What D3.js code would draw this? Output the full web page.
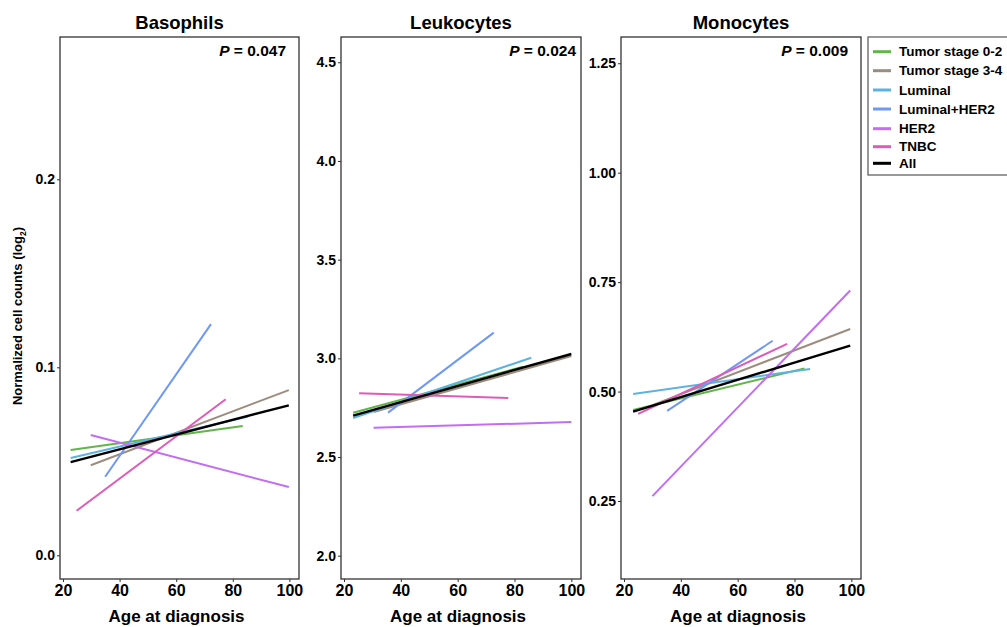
<!DOCTYPE html>
<html><head><meta charset="utf-8">
<script src="https://cdn.jsdelivr.net/npm/d3@7"></script>
<style>
body{margin:0;background:#fff;}
svg{display:block;font-family:"Liberation Sans",Arial,sans-serif;font-weight:bold;}
</style></head>
<body><svg id="c" width="1007" height="627"></svg>
<script>
// ---- data ----
const panels = ["Basophils", "Leukocytes", "Monocytes"];
const pValues = ["0.047", "0.024", "0.009"];
const groups = ["Tumor stage 0-2", "Tumor stage 3-4", "Luminal", "Luminal+HER2", "HER2", "TNBC", "All"];
const groupColors = ["#62b548", "#9c8c7d", "#5db3e0", "#6f98f4", "#c36df2", "#de5bb9", "#000000"];
const xTicks = [20, 40, 60, 80, 100];
const yTicks = [[0.0, 0.1, 0.2], [2.0, 2.5, 3.0, 3.5, 4.0, 4.5], [0.25, 0.50, 0.75, 1.00, 1.25]];
const yTickFormats = [".1f", ".1f", ".2f"];
const yDomains = [[-0.0126, 0.2757], [1.882, 4.628], [0.0718, 1.310]];
// each line: [ageStart, valueStart, ageEnd, valueEnd], order follows groups
const basophils = [
  [22.7, 0.0560, 83.5, 0.0688],
  [29.8, 0.0479, 99.8, 0.0879],
  [22.7, 0.0518, 85.5, 0.0738],
  [34.9, 0.0418, 72.3, 0.1230],
  [29.8, 0.0640, 99.8, 0.0363],
  [24.8, 0.0237, 77.5, 0.0830],
  [22.7, 0.0496, 99.8, 0.0798]
];
const leukocytes = [
  [23.2, 2.724, 83.0, 2.958],
  [30.4, 2.728, 100.0, 3.012],
  [23.2, 2.698, 85.9, 3.003],
  [35.5, 2.725, 72.7, 3.130],
  [30.4, 2.648, 100.0, 2.677],
  [25.3, 2.823, 77.8, 2.799],
  [23.2, 2.710, 100.0, 3.022]
];
const monocytes = [
  [23.2, 0.458, 83.5, 0.553],
  [30.0, 0.469, 99.6, 0.643],
  [23.2, 0.4945, 85.5, 0.5516],
  [35.2, 0.456, 72.3, 0.616],
  [30.0, 0.261, 99.6, 0.731],
  [25.0, 0.449, 77.4, 0.609],
  [23.2, 0.454, 99.6, 0.605]
];
const panelData = [basophils, leukocytes, monocytes];

// ---- layout ----
const svg = d3.select("#c");
const lefts = [60, 341, 621], widths = [239, 240, 240];
const plotTop = 37, plotBottom = 579;
const xDomain = [18.94, 103.4];
const pRight = [286, 576, 848];

panels.forEach((name, i) => {
  const x = d3.scaleLinear().domain(xDomain).range([lefts[i], lefts[i] + widths[i]]);
  const y = d3.scaleLinear().domain(yDomains[i]).range([plotBottom, plotTop]);
  const g = svg.append("g");

  // frame
  g.append("rect").attr("x", lefts[i]).attr("y", plotTop).attr("width", widths[i]).attr("height", plotBottom - plotTop)
    .attr("fill", "none").attr("stroke", "#333").attr("stroke-width", 1.3);

  // y axis
  const ya = g.append("g").attr("transform", `translate(${lefts[i]},0)`)
    .call(d3.axisLeft(y).tickValues(yTicks[i]).tickFormat(d3.format(yTickFormats[i])).tickSize(3).tickPadding(2));
  ya.select(".domain").remove();
  ya.selectAll("line").attr("stroke", "#333");
  ya.selectAll("text").attr("font-size", 14).attr("font-weight", "bold").attr("fill", "#000")
    .attr("font-family", "Liberation Sans, Arial, sans-serif");

  // x axis
  const xa = g.append("g").attr("transform", `translate(0,${plotBottom})`)
    .call(d3.axisBottom(x).tickValues(xTicks).tickSize(3).tickPadding(3));
  xa.select(".domain").remove();
  xa.selectAll("line").attr("stroke", "#333");
  xa.selectAll("text").attr("font-size", 16).attr("font-weight", "bold").attr("fill", "#000")
    .attr("font-family", "Liberation Sans, Arial, sans-serif");

  // title
  g.append("text").attr("x", lefts[i] + widths[i] / 2).attr("y", 29).attr("text-anchor", "middle")
    .attr("font-size", 18.5).text(name);

  // x label
  g.append("text").attr("x", lefts[i] + widths[i] / 2 - 3).attr("y", 622).attr("text-anchor", "middle")
    .attr("font-size", 17).text("Age at diagnosis");

  // P value
  const pt = g.append("text").attr("x", pRight[i]).attr("y", 56).attr("text-anchor", "end").attr("font-size", 15.5);
  pt.append("tspan").attr("font-style", "italic").text("P");
  pt.append("tspan").text(" = " + pValues[i]);

  // lines
  const line = d3.line().x(d => x(d[0])).y(d => y(d[1]));
  panelData[i].forEach((seg, k) => {
    g.append("path").datum([[seg[0], seg[1]], [seg[2], seg[3]]])
      .attr("d", line).attr("fill", "none").attr("stroke", groupColors[k])
      .attr("stroke-width", k === 6 ? 2.4 : 2);
  });
});

// y label
const yl = svg.append("text").attr("transform", "translate(22,316) rotate(-90)").attr("text-anchor", "middle")
  .attr("font-size", 13);
yl.append("tspan").text("Normalized cell counts (log");
yl.append("tspan").attr("font-size", 8.5).attr("dy", 4).text("2");
yl.append("tspan").attr("dy", -4).text(")");

// legend
const lg = svg.append("g");
lg.append("rect").attr("x", 868).attr("y", 37).attr("width", 150).attr("height", 138)
  .attr("fill", "#fff").attr("stroke", "#555").attr("stroke-width", 1.2);
const legY = [51.7, 70.7, 90, 109, 128.7, 146.7, 163.3];
groups.forEach((gname, k) => {
  lg.append("line").attr("x1", 873).attr("x2", 891).attr("y1", legY[k]).attr("y2", legY[k])
    .attr("stroke", groupColors[k]).attr("stroke-width", 3);
  lg.append("text").attr("x", 899).attr("y", legY[k] + 4.5).attr("font-size", 13.5).text(gname);
});
</script></body></html>
